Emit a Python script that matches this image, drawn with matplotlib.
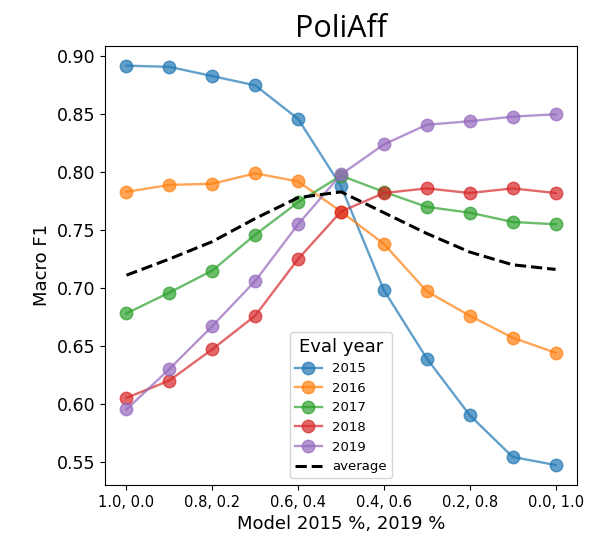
import matplotlib
matplotlib.use("Agg")
import matplotlib.pyplot as plt
import numpy as np

# datos
mezclas = ["1.0, 0.0", "0.8, 0.2", "0.6, 0.4", "0.4, 0.6", "0.2, 0.8", "0.0, 1.0"]
anios = ["2015", "2016", "2017", "2018", "2019"]

f1_2015 = [0.892, 0.891, 0.883, 0.875, 0.846, 0.788, 0.698, 0.639, 0.590, 0.554, 0.547]
f1_2016 = [0.783, 0.789, 0.790, 0.799, 0.792, 0.766, 0.738, 0.697, 0.676, 0.657, 0.644]
f1_2017 = [0.678, 0.696, 0.715, 0.746, 0.774, 0.797, 0.783, 0.770, 0.765, 0.757, 0.755]
f1_2018 = [0.605, 0.620, 0.647, 0.676, 0.725, 0.766, 0.782, 0.786, 0.782, 0.786, 0.782]
f1_2019 = [0.595, 0.630, 0.667, 0.706, 0.755, 0.798, 0.824, 0.841, 0.844, 0.848, 0.850]
f1_promedio = [0.711, 0.725, 0.740, 0.760, 0.778, 0.783, 0.765, 0.747, 0.731, 0.720, 0.716]

series = [f1_2015, f1_2016, f1_2017, f1_2018, f1_2019]
colores = ["#1f77b4", "#ff7f0e", "#2ca02c", "#d62728", "#9467bd"]

fig = plt.figure(figsize=(5.9, 5.41), dpi=100)
ax = fig.add_axes([0.178, 0.1035, 0.8, 0.812])

x = np.arange(len(f1_2015))
for valores, anio, color in zip(series, anios, colores):
    ax.plot(x, valores, marker="o", color=color, linewidth=1.7,
            markersize=9, alpha=0.7, label=anio)
ax.plot(x, f1_promedio, "--", color="black", linewidth=2.2, label="average")

ax.set_xticks(x[::2])
ax.set_xticklabels(mezclas, fontsize=10.5)
ax.tick_params(axis="y", labelsize=12.5)
ax.set_yticks([0.55, 0.60, 0.65, 0.70, 0.75, 0.80, 0.85, 0.90])
ax.set_yticklabels(["0.55", "0.60", "0.65", "0.70", "0.75", "0.80", "0.85", "0.90"])

ax.set_xlabel("Model 2015 %, 2019 %", fontsize=13)
ax.set_ylabel("Macro F1", fontsize=13)
ax.set_title("PoliAff", fontsize=22, family=["Open Sans", "DejaVu Sans"])

leg = ax.legend(title="Eval year", loc="lower center", fontsize=9.5,
                title_fontsize=13)

fig.savefig("out.png", dpi=100)
